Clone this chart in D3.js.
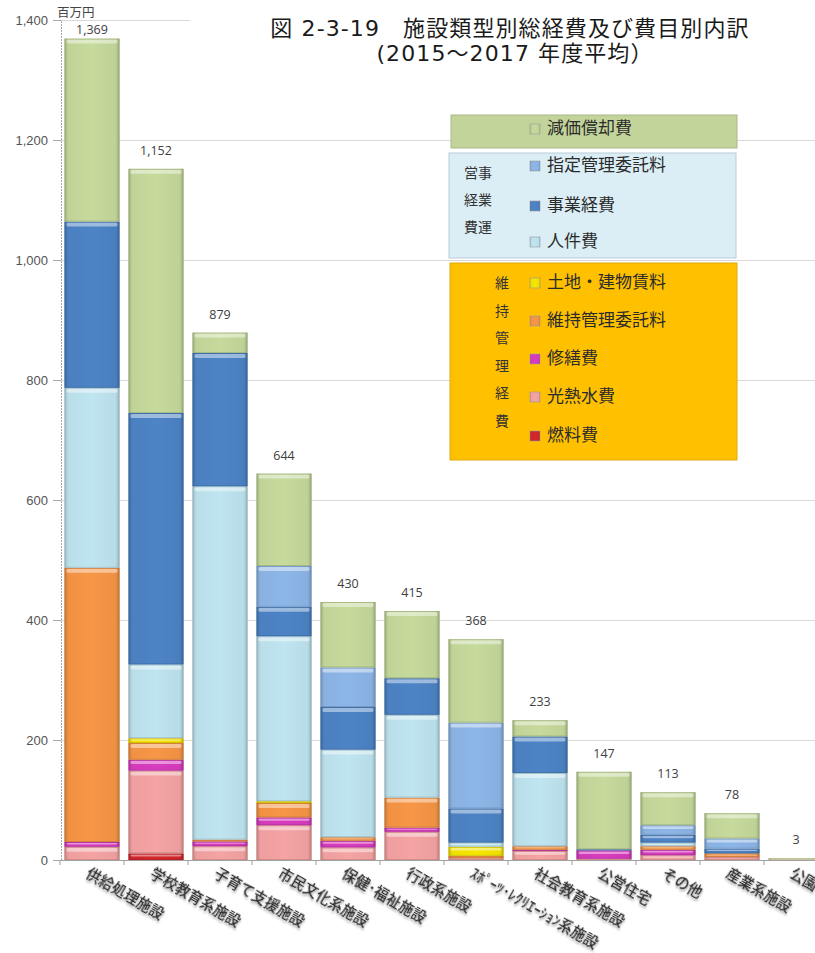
<!DOCTYPE html>
<html>
<head>
<meta charset="utf-8">
<script src="https://cdn.jsdelivr.net/npm/d3@7/dist/d3.min.js"></script>
<style>
  body { margin: 0; background: #fff; }
  svg { display: block; }
</style>
</head>
<body>
<svg id="chart" width="815" height="953"></svg>
<script>
// 施設類型（表示順）
const categories = [
  "供給処理施設", "学校教育系施設", "子育て支援施設", "市民文化系施設",
  "保健･福祉施設", "行政系施設", "ｽﾎﾟｰﾂ･ﾚｸﾘｴｰｼｮﾝ系施設",
  "社会教育系施設", "公営住宅", "その他", "産業系施設", "公園"
];

// 費目別の経費（百万円）、積み上げは下から順に
const fuelCost       = [  0,  11,   0,   0,   0,   0,   0,   0,   0,  0,  0, 0]; // 燃料費
const utilityCost    = [ 22, 138,  23,  58,  21,  47,   3,  15,   2,  8,  5, 1]; // 光熱水費
const repairCost     = [  8,  18,   8,  13,  11,   7,   0,   2,  14,  9,  0, 0]; // 修繕費
const maintContract  = [457,  28,   3,  24,   6,  50,   4,   6,   0,  6,  6, 0]; // 維持管理委託料
const landRent       = [  0,   8,   0,   3,   0,   0,  15,   0,   0,  0,  0, 0]; // 土地・建物賃料
const personnel      = [300, 123, 589, 275, 146, 138,   7, 122,   0,  6,  0, 0]; // 人件費
const projectCost    = [277, 419, 222,  49,  71,  61,  57,  61,   2, 13,  8, 0]; // 事業経費
const designatedMgmt = [  0,   0,   0,  68,  66,   0, 143,   0,   0, 16, 17, 0]; // 指定管理委託料
const depreciation   = [305, 407,  34, 154, 109, 112, 139,  27, 129, 55, 42, 2]; // 減価償却費

const yTicks = [0, 200, 400, 600, 800, 1000, 1200, 1400];

const series = [
  { key: "燃料費",         values: fuelCost,       color: "#d3272b" },
  { key: "光熱水費",       values: utilityCost,    color: "#f5a3a3" },
  { key: "修繕費",         values: repairCost,     color: "#d83cbf" },
  { key: "維持管理委託料", values: maintContract,  color: "#f79646" },
  { key: "土地・建物賃料", values: landRent,       color: "#f7e600" },
  { key: "人件費",         values: personnel,      color: "#bfe5f0" },
  { key: "事業経費",       values: projectCost,    color: "#4d84c6" },
  { key: "指定管理委託料", values: designatedMgmt, color: "#8db6e8" },
  { key: "減価償却費",     values: depreciation,   color: "#c6da9c" }
];
const colorOf = Object.fromEntries(series.map(s => [s.key, s.color]));

// 積み上げ用の表
const table = categories.map((c, i) => {
  const row = { category: c };
  series.forEach(s => { row[s.key] = s.values[i]; });
  return row;
});
const stacked = d3.stack().keys(series.map(s => s.key))(table);
const totals = table.map(r => d3.sum(series, s => r[s.key]));

const svg = d3.select("#chart");
const W = 815, H = 953;
const FONT_JP = "'Noto Sans CJK JP', 'Noto Sans', sans-serif";

const x = d3.scaleBand().domain(categories).range([60, 828])
  .paddingInner(0.14).paddingOuter(0.07);
const y = d3.scaleLinear().domain([0, 1400]).range([860, 20]);

// グラデーション・影
const defs = svg.append("defs");
const shade = defs.append("linearGradient").attr("id", "shade")
  .attr("x1", 0).attr("x2", 1).attr("y1", 0).attr("y2", 0);
[[0, 0.2], [0.07, 0.03], [0.5, 0], [0.93, 0.04], [1, 0.22]].forEach(([o, a]) =>
  shade.append("stop").attr("offset", o).attr("stop-color", "#000").attr("stop-opacity", a));
const shadow = defs.append("filter").attr("id", "soft")
  .attr("x", "-10%").attr("y", "-30%").attr("width", "130%").attr("height", "180%");
shadow.append("feGaussianBlur").attr("in", "SourceAlpha").attr("stdDeviation", 1.3).attr("result", "b");
shadow.append("feOffset").attr("in", "b").attr("dx", 1).attr("dy", 1.5).attr("result", "o");
shadow.append("feComponentTransfer").attr("in", "o").attr("result", "s")
  .append("feFuncA").attr("type", "linear").attr("slope", 0.35);
const merge = shadow.append("feMerge");
merge.append("feMergeNode").attr("in", "s");
merge.append("feMergeNode").attr("in", "SourceGraphic");

svg.append("rect").attr("width", W).attr("height", H).attr("fill", "#fff");

// 目盛線
svg.append("g").selectAll("line").data(yTicks.filter(t => t > 0)).join("line")
  .attr("x1", 61).attr("x2", W)
  .attr("y1", d => y(d) + 0.5).attr("y2", d => y(d) + 0.5)
  .attr("stroke", "#d9d9d9").attr("stroke-width", 1);

// 縦軸
const yAxis = d3.axisLeft(y).tickValues(yTicks).tickFormat(d3.format(",")).tickSize(8).tickPadding(5);
const gy = svg.append("g").attr("transform", "translate(61,0)").call(yAxis);
gy.select(".domain").attr("stroke", "#a8a8a8").attr("stroke-dasharray", "2,1");
gy.selectAll(".tick line").attr("stroke", "#a8a8a8");
gy.selectAll(".tick text").attr("fill", "#555").attr("font-size", 13)
  .attr("font-family", "'Liberation Sans', Arial, sans-serif").attr("x", -13);

svg.append("text").attr("x", 57).attr("y", 17).text("百万円")
  .attr("font-family", FONT_JP).attr("font-size", 12.5).attr("fill", "#444");

// 横軸
const step = x.step(), gap = step * x.paddingInner() / 2;
const bounds = d3.range(categories.length + 1).map(i =>
  i < categories.length ? x(categories[i]) - gap : x(categories[i - 1]) + x.bandwidth() + gap);
svg.append("line").attr("x1", 61).attr("x2", W).attr("y1", 860.5).attr("y2", 860.5)
  .attr("stroke", "#a0a0a0");
svg.append("g").selectAll("line").data(bounds).join("line")
  .attr("x1", d => d).attr("x2", d => d).attr("y1", 860).attr("y2", 865)
  .attr("stroke", "#a0a0a0");

// 積み上げ棒
const bars = svg.append("g");
stacked.forEach(layer => {
  const col = colorOf[layer.key];
  layer.forEach((d, i) => {
    const v = d[1] - d[0];
    if (v <= 0) return;
    const x0 = x(categories[i]), bw = x.bandwidth();
    const top = y(d[1]), h = y(d[0]) - y(d[1]);
    const g = bars.append("g");
    g.append("rect").attr("x", x0).attr("y", top).attr("width", bw).attr("height", h)
      .attr("fill", col);
    g.append("rect").attr("x", x0).attr("y", top).attr("width", bw).attr("height", h)
      .attr("fill", "url(#shade)");
    if (h > 3) {
      g.append("rect").attr("x", x0 + 2).attr("y", top + 1).attr("width", bw - 4)
        .attr("height", Math.min(4, h * 0.3)).attr("rx", 1.5)
        .attr("fill", "#fff").attr("opacity", 0.45);
    }
    g.append("rect").attr("x", x0 + 0.5).attr("y", top + 0.5).attr("width", bw - 1)
      .attr("height", Math.max(0, h - 1)).attr("fill", "none")
      .attr("stroke", d3.color(col).darker(0.8)).attr("stroke-opacity", 0.55).attr("stroke-width", 1);
  });
});

// 合計ラベル
svg.append("g").selectAll("text").data(totals).join("text")
  .attr("x", (d, i) => x(categories[i]) + x.bandwidth() / 2)
  .attr("y", d => Math.max(y(d) - 14, 34))
  .attr("text-anchor", "middle")
  .attr("font-family", "'Open Sans', 'Noto Sans', sans-serif").attr("font-size", 12.5)
  .attr("fill", "#404040")
  .text(d => d3.format(",")(d));

// 横軸ラベル（斜め）
svg.append("g").selectAll("text").data(categories).join("text")
  .attr("transform", d => `translate(${x(d) + x.bandwidth() / 2 - 1},866) rotate(30)`)
  .attr("dy", "0.85em")
  .attr("font-family", FONT_JP).attr("font-size", 14.5).attr("font-weight", 500)
  .attr("fill", "#2a2a2a").attr("filter", "url(#soft)")
  .text(d => d);

// タイトル
svg.append("rect").attr("x", 190).attr("y", 0).attr("width", W - 190).attr("height", 76).attr("fill", "#fff");
const title = svg.append("text").attr("text-anchor", "middle")
  .attr("font-family", "'DejaVu Sans', 'Noto Sans CJK JP', sans-serif")
  .attr("font-size", 22).attr("letter-spacing", 1.1).attr("fill", "#1a1a1a");
title.append("tspan").attr("x", 510).attr("y", 36).text("図 2-3-19　施設類型別総経費及び費目別内訳");
title.append("tspan").attr("x", 515).attr("y", 61).text("(2015～2017 年度平均）");

// 凡例
const legend = svg.append("g");
const boxes = [
  { x: 451, y: 115, w: 286, h: 33, fill: "#c3d49b", stroke: "#a9b98a" },
  { x: 449, y: 153, w: 287, h: 105, fill: "#dbeef5", stroke: "#b8ccd6" },
  { x: 450, y: 263, w: 287, h: 197, fill: "#ffc000", stroke: "#e0aa10" }
];
legend.selectAll("rect.box").data(boxes).join("rect").attr("class", "box")
  .attr("x", d => d.x).attr("y", d => d.y).attr("width", d => d.w).attr("height", d => d.h)
  .attr("fill", d => d.fill).attr("stroke", d => d.stroke);

const legendItems = [
  { key: "減価償却費",     cy: 128 },
  { key: "指定管理委託料", cy: 165 },
  { key: "事業経費",       cy: 205 },
  { key: "人件費",         cy: 241 },
  { key: "土地・建物賃料", cy: 282 },
  { key: "維持管理委託料", cy: 320 },
  { key: "修繕費",         cy: 358 },
  { key: "光熱水費",       cy: 396 },
  { key: "燃料費",         cy: 435 }
];
const li = legend.selectAll("g.item").data(legendItems).join("g").attr("class", "item");
li.append("rect").attr("x", 530).attr("y", d => d.cy - 4).attr("width", 10).attr("height", 10)
  .attr("fill", d => colorOf[d.key]).attr("stroke", "#9a9a9a").attr("stroke-width", 0.6);
li.append("rect").attr("x", 530).attr("y", d => d.cy - 4).attr("width", 10).attr("height", 10)
  .attr("fill", "url(#shade)");
li.append("text").attr("x", 547).attr("y", d => d.cy).attr("dy", "0.35em")
  .attr("font-family", FONT_JP).attr("font-size", 17).attr("fill", "#2b2b2b")
  .text(d => d.key);

// 区分見出し
legend.selectAll("text.op").data(["営事", "経業", "費運"]).join("text").attr("class", "op")
  .attr("x", 464).attr("y", (d, i) => 173 + i * 27).attr("dy", "0.35em")
  .attr("font-family", FONT_JP).attr("font-size", 14).attr("fill", "#333").text(d => d);
legend.selectAll("text.mt").data(["維", "持", "管", "理", "経", "費"]).join("text").attr("class", "mt")
  .attr("x", 502).attr("y", (d, i) => 283 + i * 27.6).attr("dy", "0.35em").attr("text-anchor", "middle")
  .attr("font-family", FONT_JP).attr("font-size", 14).attr("fill", "#333").text(d => d);
</script>
</body>
</html>
